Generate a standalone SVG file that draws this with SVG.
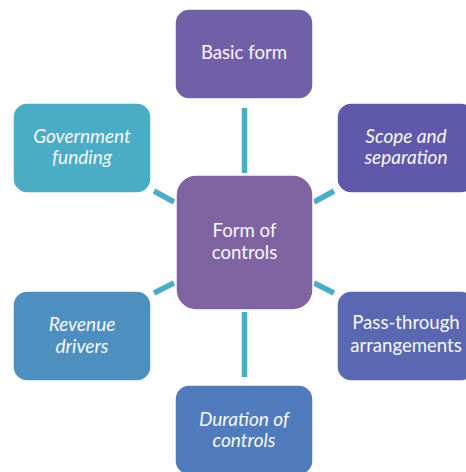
<svg xmlns="http://www.w3.org/2000/svg" width="466" height="472" viewBox="0 0 466 472">
<style>
.box{stroke:#ffffff;stroke-width:1.5}
.t{font-family:Lato,"Open Sans","Liberation Sans",sans-serif;font-size:18.6px;fill:#f8f8f8;text-anchor:middle}
.i{font-style:italic;font-size:19px}
.c{stroke:#4bacc6;stroke-width:5.5;fill:none}
</style>
<rect width="466" height="472" fill="#ffffff"/>
<g id="connectors">
<line class="c" x1="244.5" y1="108" x2="244.5" y2="173"/>
<line class="c" x1="244.5" y1="312" x2="244.5" y2="377"/>
<line class="c" x1="154" y1="191" x2="174" y2="202"/>
<line class="c" x1="314" y1="202" x2="334" y2="191"/>
<line class="c" x1="154" y1="293" x2="174" y2="283"/>
<line class="c" x1="314" y1="283" x2="334" y2="293"/>
</g>
<g id="center">
<rect class="box" x="176" y="175" width="137" height="135" rx="20" fill="#8064a2"/>
<text class="t" x="244.5" y="237">Form of</text>
<text class="t" x="244.5" y="259">controls</text>
</g>
<g id="basic-form">
<rect class="box" x="175" y="9" width="138" height="90" rx="14" fill="#7060a8"/>
<text class="t" x="244" y="59">Basic form</text>
</g>
<g id="scope">
<rect class="box" x="337" y="103" width="138" height="90" rx="14" fill="#6059ab"/>
<text class="t i" x="406" y="143">Scope and</text>
<text class="t i" x="406" y="164">separation</text>
</g>
<g id="pass-through">
<rect class="box" x="337" y="291" width="138" height="90" rx="14" fill="#5a67b1"/>
<text class="t" x="406" y="329">Pass-through</text>
<text class="t" x="406" y="352">arrangements</text>
</g>
<g id="duration">
<rect class="box" x="175" y="385" width="138" height="90" rx="14" fill="#507bbd"/>
<text class="t i" x="244" y="426">Duration of</text>
<text class="t i" x="244" y="447">controls</text>
</g>
<g id="revenue">
<rect class="box" x="13" y="291" width="138" height="90" rx="14" fill="#4d90c0"/>
<text class="t i" x="82" y="331">Revenue</text>
<text class="t i" x="82" y="353">drivers</text>
</g>
<g id="government">
<rect class="box" x="13" y="103" width="138" height="90" rx="14" fill="#4aacc5"/>
<text class="t i" x="82" y="143">Government</text>
<text class="t i" x="82" y="164">funding</text>
</g>
</svg>
